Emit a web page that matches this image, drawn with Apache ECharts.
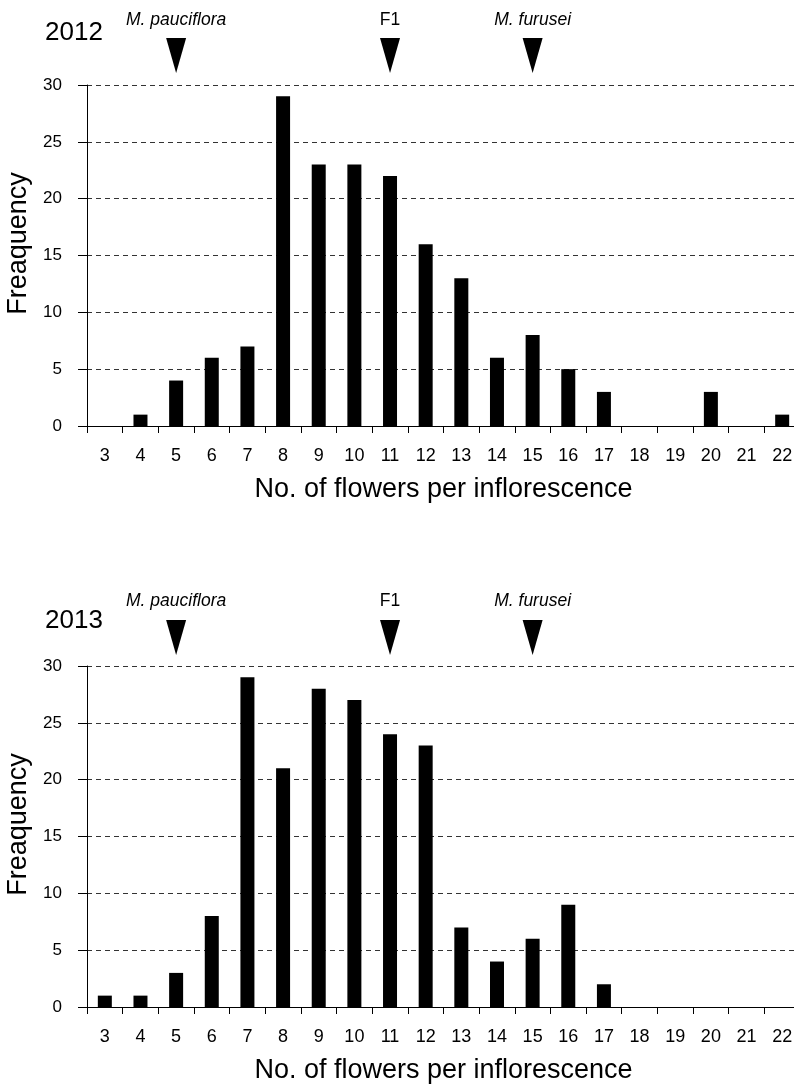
<!DOCTYPE html>
<html>
<head>
<meta charset="utf-8">
<script src="https://cdn.jsdelivr.net/npm/echarts@6/dist/echarts.min.js"></script>
<style>
  html, body { margin: 0; padding: 0; background: #fff; overflow: hidden; }
  #chart { width: 794px; height: 1085px; }
</style>
</head>
<body>
<div id="chart"></div>
<script>
// categories (no. of flowers per inflorescence)
const flowerCounts = ['3', '4', '5', '6', '7', '8', '9', '10', '11', '12',
  '13', '14', '15', '16', '17', '18', '19', '20', '21', '22'];

// frequencies per year
const freq2012 = [0, 1, 4, 6, 7, 29, 23, 23, 22, 16, 13, 6, 8, 5, 3, 0, 0, 3, 0, 1];
const freq2013 = [1, 1, 3, 8, 29, 21, 28, 27, 24, 23, 7, 4, 6, 9, 2, 0, 0, 0, 0, 0];

// arrow markers above the plots (parents and hybrid)
const markerCats = ['5', '11', '15'];
const markerNames = ['M. pauciflora', 'F1', 'M. furusei'];
const markerItalic = [true, false, true];

const yTicks = { min: 0, max: 30, interval: 5 };
const years = ['2012', '2013'];

const FONT = 'Liberation Sans, Arial, sans-serif';
const chart = echarts.init(document.getElementById('chart'));

const gridTops = [85, 666];
const gridHeight = 341;

function xAxisFor(i) {
  return {
    type: 'category',
    gridIndex: i,
    data: flowerCounts,
    boundaryGap: true,
    name: 'No. of flowers per inflorescence',
    nameLocation: 'middle',
    nameGap: 50,
    nameTextStyle: { fontFamily: FONT, fontSize: 27, color: '#000' },
    axisLine: { lineStyle: { color: '#000', width: 1 } },
    axisTick: { show: true, length: 7, inside: false, lineStyle: { color: '#000' } },
    axisLabel: { fontFamily: FONT, fontSize: 18, color: '#000', margin: 21, interval: 0 },
    splitLine: { show: false }
  };
}

function yAxisFor(i) {
  return {
    type: 'value',
    gridIndex: i,
    min: yTicks.min,
    max: yTicks.max,
    interval: yTicks.interval,
    name: 'Freaquency',
    nameLocation: 'middle',
    nameGap: 48,
    // nudge the rotated name up a little, like the original
    nameTextStyle: { fontFamily: FONT, fontSize: 27, color: '#000', padding: [0, 0, 0, 24] },
    axisLine: { show: true, lineStyle: { color: '#000', width: 1 } },
    axisTick: { show: true, length: 9, lineStyle: { color: '#000' } },
    axisLabel: { fontFamily: FONT, fontSize: 17, color: '#000', margin: 25 },
    splitLine: { show: true, lineStyle: { color: '#333', type: [5, 4], width: 1 } }
  };
}

function markerSeries(i, offset, dist) {
  return {
    type: 'scatter',
    xAxisIndex: i,
    yAxisIndex: i,
    silent: true,
    clip: false,
    z: 5,
    symbol: 'path://M0,0L20,0L10,35Z',
    symbolSize: [20, 35],
    symbolOffset: [0, offset],
    itemStyle: { color: '#000', opacity: 1 },
    label: {
      show: true,
      position: 'top',
      distance: dist,
      fontFamily: FONT,
      fontSize: 17.5,
      color: '#000',
      formatter: p => p.name
    },
    data: markerCats.map((c, k) => ({
      name: markerNames[k],
      value: [c, yTicks.max],
      label: { fontStyle: markerItalic[k] ? 'italic' : 'normal' }
    }))
  };
}

const freqs = [freq2012, freq2013];

chart.setOption({
  backgroundColor: '#fff',
  animation: false,
  title: years.map((y, i) => ({
    text: y,
    left: 40,
    top: i === 0 ? 15 : 603,
    textStyle: { fontFamily: FONT, fontSize: 26, fontWeight: 'normal', color: '#000' }
  })),
  grid: gridTops.map(t => ({
    left: 87, top: t, width: 713, height: gridHeight,
    containLabel: false, outerBoundsMode: 'none'
  })),
  xAxis: [xAxisFor(0), xAxisFor(1)],
  yAxis: [yAxisFor(0), yAxisFor(1)],
  series: [
    ...freqs.map((f, i) => ({
      type: 'bar',
      xAxisIndex: i,
      yAxisIndex: i,
      barWidth: 14,
      silent: true,
      itemStyle: { color: '#000' },
      data: f
    })),
    markerSeries(0, -29.5, 9),
    markerSeries(1, -28.5, 10)
  ]
});
</script>
</body>
</html>
